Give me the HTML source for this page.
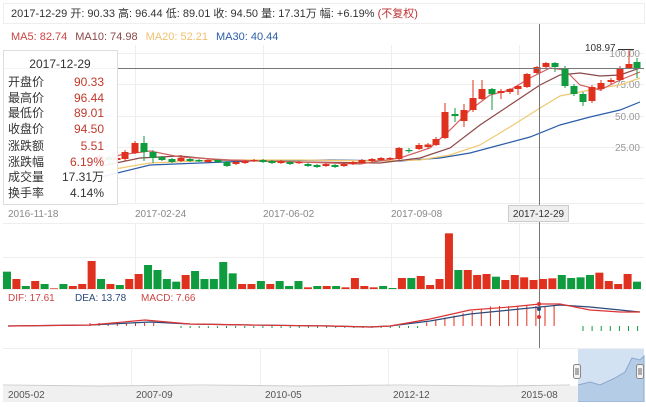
<!DOCTYPE html>
<html><head><meta charset="utf-8"><style>
body{margin:0;background:#fff;width:646px;height:402px;overflow:hidden}
svg text{font-family:"Liberation Sans","Noto Sans CJK SC",sans-serif}
</style></head><body>
<svg id="s" width="646" height="402" xmlns="http://www.w3.org/2000/svg">
<rect x="0" y="0" width="646" height="402" fill="#fff"/>
<rect x="3.5" y="3.5" width="641" height="20" fill="none" stroke="#eee"/>
<text x="11" y="17" font-size="11" fill="#333">2017-12-29 开: 90.33 高: 96.44 低: 89.01 收: 94.50 量: 17.31万 幅: +6.19% <tspan fill="#b33">(不复权)</tspan></text>
<text x="11" y="40" font-size="11"><tspan fill="#c44">MA5: 82.74</tspan><tspan fill="#8b4848" dx="8">MA10: 74.98</tspan><tspan fill="#f0c070" dx="8">MA20: 52.21</tspan><tspan fill="#2a5da8" dx="8">MA30: 40.44</tspan></text>
<g id="grid" stroke="#eee" stroke-width="1"></g>
<g id="main"></g>
</svg>
<script>
const s=document.getElementById('main');const NS='http://www.w3.org/2000/svg';
function el(t,a,p){const e=document.createElementNS(NS,t);for(const k in a)e.setAttribute(k,a[k]);(p||s).appendChild(e);return e}
function tx(x,y,str,a){const e=el('text',Object.assign({x:x,y:y,'font-size':11},a||{}));e.textContent=str;return e}
const R='#e0301e',G='#0f9c3f';
const g=document.getElementById('grid');
[53,84,116,147,178].forEach(y=>el('line',{x1:3,x2:644,y1:y+.5,y2:y+.5},g));
[135,263,391,519].forEach(x=>el('line',{x1:x+.5,x2:x+.5,y1:45,y2:203},g));
el('line',{x1:3,x2:644,y1:203.5,y2:203.5},g);
el('line',{x1:3,x2:644,y1:223.5,y2:223.5},g);el('line',{x1:3,x2:644,y1:257.5,y2:257.5},g);
[135,263,391,519].forEach(x=>el('line',{x1:x+.5,x2:x+.5,y1:223,y2:289},g));
el('line',{x1:3,x2:644,y1:289.5,y2:289.5},g);
el('line',{x1:3,x2:644,y1:348.5,y2:348.5},g);
[[53,'100.00'],[84,'75.00'],[116,'50.00'],[147,'25.00']].forEach(([y,t])=>tx(640,y+4,t,{fill:'#999','text-anchor':'end','font-size':10}));
function pl(pts,c){el('polyline',{points:pts.map(p=>p.join(',')).join(' '),fill:'none',stroke:c,'stroke-width':1.2})}
pl([[97,178],[150,165],[250,161],[330,160],[400,161],[440,158],[470,153],[500,145],[530,137],[560,125],[590,117],[620,110],[640,102]],'#2a5da8');
pl([[97,172],[150,163],[220,160],[300,160],[380,161],[420,160],[450,155],[480,145],[510,127],[540,108],[560,96],[580,92],[600,88],[620,85],[640,78]],'#f0c870');
pl([[97,167],[140,158],[180,156],[220,160],[300,162],[380,163],[420,158],[450,148],[480,125],[510,105],[540,85],[560,75],[580,73],[600,76],[620,75],[640,68]],'#8b4848');
pl([[97,163],[120,155],[150,151],[180,157],[230,160],[300,162],[360,164],[400,158],[430,148],[450,130],[470,110],[490,95],[510,90],[530,78],[550,68],[565,70],[580,85],[600,90],[620,80],[640,72]],'#d06060');
const C=[[100,160,156,154,162],[109,157,160,155,163],[117,160,158,156,162],[125,159,152,150,161],[135,153,143,141,154],[144,143,152,136,161],[153,152,158,150,163],[162,157,160,156,161],[172,159,162,158,163],[181,161,158,155,162],[190,159,161,158,162],[199,160,161.5,159,162],[208,162,160,159,163],[218,160,162,159,163],[227,162,166,161,167],[236,164,162,161,165],[245,163,161,160,164],[254,161,160,159,162],[263,160,162,159,163],[272,161,163,160,164],[281,163,161,160,164],[290,162,164,161,165],[299,163,162,161,164],[308,164,166,163,167],[317,165,167,164,168],[326,166,164,163,167],[335,165,167,164,168],[344,166,164,163,167],[353,164,162,161,165],[362,163,160,159,164],[372,161,159,158,162],[381,160,158,157,161],[390,159,158,157,160],[399,159,148,147,160],[409,150,151,148,153],[419,149,145,143,150],[428,147,144.5,143,149],[436,145,139,137,146],[445,138,112,103,139],[455,114,116,108,122],[464,121,110,104,127],[473,110,98,80,112],[482,99,89,80,100],[492,89,94,88,110],[501,93,91,89,99],[510,92,89,88,94],[518,89,86,85,95],[527,87,74,73,88],[537,73,67,66,74],[546,67,63,62,68],[555,63,67,62,72],[565,68,86,66,88],[574,86,94,84,96],[583,94,102,92,106],[592,101,87,85,103],[601,89,83,80,91],[611,82,80,78,84],[620,80,68,66,81],[629,68,64,50,69],[637,62,68,58,78]];
C.forEach(([x,o,c,h,l])=>{const col=c<o?R:G;el('line',{x1:x,x2:x,y1:h,y2:l,stroke:col});el('rect',{x:x-3.5,y:Math.min(o,c),width:7,height:Math.max(1.2,Math.abs(o-c)),fill:col})});
el('line',{x1:618,x2:634,y1:49.5,y2:49.5,stroke:'#333'});tx(585,51,'108.97',{fill:'#333','font-size':10});
el('line',{x1:539.5,x2:539.5,y1:24,y2:348,stroke:'#777'});
el('line',{x1:3,x2:644,y1:68.5,y2:68.5,stroke:'#777'});
el('rect',{x:3.5,y:50.5,width:114,height:154,fill:'rgba(255,255,255,0.92)',stroke:'#ddd'});
tx(60,68,'2017-12-29',{'text-anchor':'middle','font-size':12,fill:'#333'});
const rows=[['开盘价','90.33',1],['最高价','96.44',1],['最低价','89.01',1],['收盘价','94.50',1],['涨跌额','5.51',1],['涨跌幅','6.19%',1],['成交量','17.31万',0],['换手率','4.14%',0]];
const ry=[86,102,117,133,150,166,181,197];
rows.forEach((r,i)=>{tx(8,ry[i],r[0],{'font-size':12,fill:'#333'});tx(104,ry[i],r[1],{'font-size':12,fill:r[2]?'#c0392b':'#333','text-anchor':'end'})});
[[8,'2016-11-18'],[135,'2017-02-24'],[263,'2017-06-02'],[391,'2017-09-08']].forEach(([x,t])=>tx(x,217,t,{fill:'#888','font-size':10}));
el('rect',{x:508.5,y:205.5,width:60,height:16,fill:'#eee',stroke:'#ccc'});
tx(538.5,217,'2017-12-29',{fill:'#333','font-size':10,'text-anchor':'middle'});
const V=[[215,0],[237,1],[258,0],[243,1],[252,0],[265,1],[252,0],[258,1],[252,1],[183,1],[237,0],[252,1],[255,0],[237,1],[222,1],[195,0],[210,0],[237,0],[245,0],[225,1],[213,0],[237,0],[237,0],[186,0],[220,0],[252,1],[252,1],[243,0],[252,1],[243,0],[258,0],[243,0],[262,1],[258,0],[258,1],[258,0],[262,1],[234,1],[258,1],[262,1],[258,0],[264,0],[234,1],[234,0],[228,1],[255,1],[237,1],[100,1],[210,0],[210,1],[225,1],[222,1],[230,0],[240,1],[225,1],[232,1],[240,1],[237,1],[235,1],[225,0],[234,0],[232,0],[225,0],[218,1],[243,1],[252,1],[222,1],[245,0]];
const pitch=(637-7)/(V.length-1);
V.forEach(([zy,r],i)=>{const x=7+i*pitch;const top=200+zy/3;el('rect',{x:x-4,y:top,width:8,height:289-top,fill:r?R:G})});
tx(8,301,'DIF: 17.61',{fill:'#c44','font-size':10});tx(75,301,'DEA: 13.78',{fill:'#2a4a7a','font-size':10});tx(141,301,'MACD: 7.66',{fill:'#c44','font-size':10});
for(let x=90;x<560;x+=9.1){let h=0;if(x<160)h=3;else if(x>420)h=Math.min(20,(x-420)/4+2);else h=0;if(x>180&&x<420)h=-2;if(h>0)el('line',{x1:x,x2:x,y1:326-h,y2:326,stroke:R});else if(h<0)el('line',{x1:x,x2:x,y1:326,y2:328,stroke:G})}
for(let x=583;x<646;x+=9.1)el('line',{x1:x,x2:x,y1:326,y2:331,stroke:G});
pl([[8,326],[90,325],[150,322],[190,324],[250,325],[330,326],[370,327],[390,326],[430,321],[470,314],[510,310],[540,307],[560,305],[590,307],[620,310],[640,312]],'#2a4a7a');
pl([[8,326],[90,325],[145,320],[190,324],[250,325],[330,326],[370,327],[390,326],[430,319],[470,310],[510,307],[540,304],[560,304],[590,310],[620,312],[640,312]],'#d33');
el('circle',{cx:539,cy:304,r:2,fill:'#d33'});el('circle',{cx:539,cy:309,r:2,fill:'#2a4a7a'});el('circle',{cx:539,cy:317,r:2,fill:'#d33'});
el('rect',{x:3,y:386,width:641,height:16,fill:'#f0f0f0'});
[131,260,388,517].forEach(x=>el('line',{x1:x+.5,x2:x+.5,y1:349,y2:386,stroke:'#eee'}));
el('polyline',{points:'3,385 100,386 200,385 300,386 400,385 500,386 570,385',fill:'none',stroke:'#ccc'});
el('rect',{x:578,y:349,width:66,height:53,fill:'#d3e2f2'});
el('polyline',{points:'578,385 590,382 600,385 615,378 625,372 632,358 640,360 644,356 644,402 578,402',fill:'#b5cce6',stroke:'#8aa8cc'});
[[8,'2005-02'],[136,'2007-09'],[265,'2010-05'],[393,'2012-12'],[521,'2015-08']].forEach(([x,t])=>tx(x,398,t,{fill:'#555','font-size':10}));
[577,640].forEach(x=>{el('rect',{x:x-3.5,y:364.5,width:7,height:14,rx:2,fill:'#f4f4f4',stroke:'#888'});el('line',{x1:x-1,x2:x-1,y1:368,y2:375,stroke:'#666'});el('line',{x1:x+1,x2:x+1,y1:368,y2:375,stroke:'#666'})});
</script>
</body></html>
